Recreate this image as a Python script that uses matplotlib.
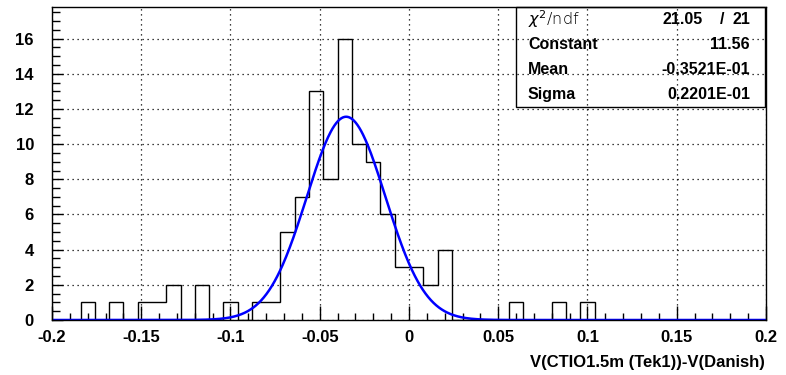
import matplotlib
matplotlib.use('Agg')
import matplotlib.pyplot as plt
import numpy as np

# histogram: 50 bins of 0.008 from -0.2 to 0.2
bin_lo = -0.2
bin_hi = 0.2
n_bins = 50
counts = [0, 0, 1, 0, 1, 0, 1, 1, 2, 0,
          2, 0, 1, 0, 1, 1, 5, 7, 13, 8,
          16, 10, 9, 6, 3, 3, 2, 4, 0, 0,
          0, 0, 1, 0, 0, 1, 0, 1, 0, 0,
          0, 0, 0, 0, 0, 0, 0, 0, 0, 0]

# gaussian fit results
fit_const = 11.56
fit_mean = -0.3521E-01
fit_sigma = 0.2201E-01
stat_names = ['Constant', 'Mean', 'Sigma']
stat_values = ['11.56', '-0.3521E-01', '0.2201E-01']
chi2_text = '21.05'
ndf_text = '21'

xlabel = 'V(CTIO1.5m (Tek1))-V(Danish)'

plt.rcParams['font.family'] = ['Liberation Sans', 'DejaVu Sans']

fig = plt.figure(figsize=(7.86, 3.75), dpi=100)
W, H = 786.0, 375.0
ax = fig.add_axes([52 / W, 1 - 320 / H, 714 / W, 313 / H])

edges = np.linspace(bin_lo, bin_hi, n_bins + 1)
ax.stairs(counts, edges, color='black', lw=1.0, baseline=0)

xs = np.linspace(bin_lo, bin_hi, 800)
ax.plot(xs, fit_const * np.exp(-0.5 * ((xs - fit_mean) / fit_sigma) ** 2),
        color='#0000ff', lw=1.8)

ax.set_xlim(bin_lo, bin_hi)
ax.set_ylim(0, 17.8)
ax.set_xticks(np.arange(-0.2, 0.2001, 0.05))
ax.set_xticklabels(['-0.2', '-0.15', '-0.1', '-0.05', '0', '0.05', '0.1', '0.15', '0.2'])
ax.set_xticks(np.arange(-0.2, 0.2001, 0.01), minor=True)
ax.set_yticks(np.arange(0, 17, 2))
ax.set_yticks(np.arange(0, 17.8, 0.5), minor=True)

ax.grid(True, which='major', color='black', linestyle=(0, (1, 3)), lw=0.9)
ax.tick_params(which='both', direction='in', labelsize=12, width=1)
ax.tick_params(axis='x', which='major', length=10, pad=7)
ax.tick_params(axis='x', which='minor', length=5)
ax.tick_params(axis='y', which='major', length=8, pad=13)
ax.tick_params(axis='y', which='minor', length=6)
for lab in ax.get_xticklabels() + ax.get_yticklabels():
    lab.set_fontweight('bold')
for sp in ax.spines.values():
    sp.set_linewidth(1.0)

fig.text(765 / W, 1 - 363 / H, xlabel, ha='right', va='center',
         fontsize=12, fontweight='bold')

# stats box (no fill, grid shows through)
bx0, by0, bx1, by1 = 516, 7, 765, 107
box = plt.Rectangle((bx0 / W, 1 - by1 / H), (bx1 - bx0) / W, (by1 - by0) / H,
                    transform=fig.transFigure, fill=False, ec='black', lw=1.0)
fig.add_artist(box)
row_y = [19.5, 44.5, 69.5, 94.5]
fig.text(528 / W, 1 - row_y[0] / H, r'$\chi^{2}$/ndf', ha='left', va='center',
         fontsize=11.5, family=['DejaVu Sans'], fontweight='light')
fig.text(703 / W, 1 - row_y[0] / H, chi2_text, ha='right', va='center',
         fontsize=11.5, fontweight='bold')
fig.text(722 / W, 1 - row_y[0] / H, '/', ha='center', va='center',
         fontsize=11.5, fontweight='bold')
fig.text(750 / W, 1 - row_y[0] / H, ndf_text, ha='right', va='center',
         fontsize=11.5, fontweight='bold')
for i in range(len(stat_names)):
    fig.text(528 / W, 1 - row_y[i + 1] / H, stat_names[i], ha='left', va='center',
             fontsize=11.5, fontweight='bold')
    fig.text(750 / W, 1 - row_y[i + 1] / H, stat_values[i], ha='right', va='center',
             fontsize=11.5, fontweight='bold')

fig.savefig('out.png', dpi=100)
